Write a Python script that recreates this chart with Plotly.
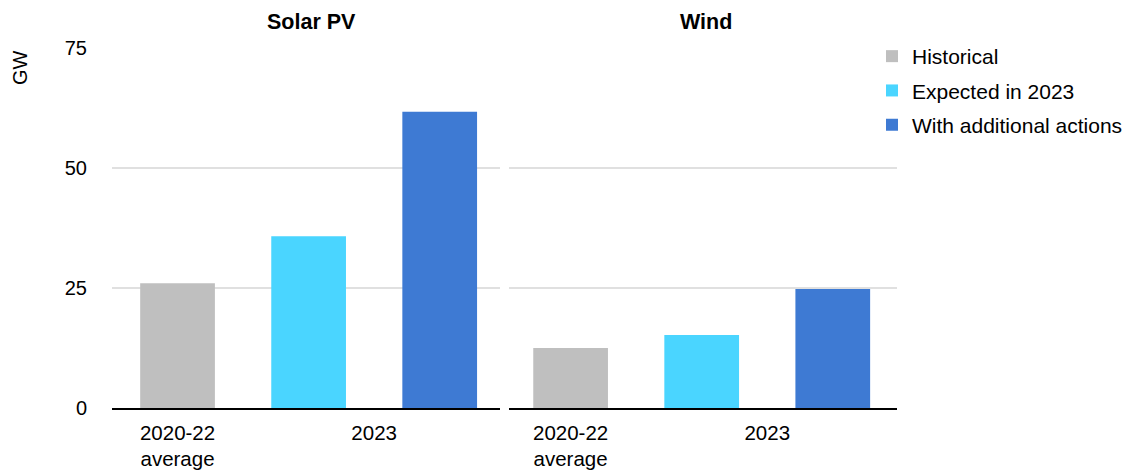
import plotly.graph_objects as go
from plotly.subplots import make_subplots

# Annual capacity additions (GW)
technologies = ["Solar PV", "Wind"]
scenarios = ["Historical", "Expected in 2023", "With additional actions"]
solar_gw = [26.0, 35.8, 61.7]
wind_gw = [12.5, 15.2, 24.8]
period_labels = ["2020-22<br>average", "2023"]
y_ticks = [0, 25, 50, 75]

colors = ["#BFBFBF", "#4AD5FF", "#3E7AD3"]
values_by_tech = [solar_gw, wind_gw]

FONT = "Liberation Sans, Arial, sans-serif"

fig = make_subplots(rows=1, cols=2, shared_yaxes=True, horizontal_spacing=0.01)

for col, (tech, vals) in enumerate(zip(technologies, values_by_tech), start=1):
    for i, (name, v, c) in enumerate(zip(scenarios, vals, colors)):
        fig.add_trace(
            go.Bar(
                x=[i], y=[v], name=name, marker_color=c, marker_line_width=0,
                width=0.57, legendgroup=name, showlegend=(col == 1),
                hovertemplate=f"{tech} – {name}: %{{y}} GW<extra></extra>",
            ),
            row=1, col=col,
        )

W, H = 1131, 470
ml, mr, mt, mb = 112, 234, 48, 62
pw = W - ml - mr
ph = H - mt - mb

def px_x(p):
    return (p - ml) / pw

def px_y(p):
    return (H - mb - p) / ph

fig.update_layout(
    width=W, height=H,
    margin=dict(l=ml, r=mr, t=mt, b=mb, autoexpand=False),
    barmode="overlay",
    plot_bgcolor="white", paper_bgcolor="white",
    font=dict(family=FONT, size=20, color="#000000"),
    legend=dict(
        x=px_x(872), y=px_y(36), xanchor="left", yanchor="top",
        font=dict(size=21, color="#000000"), traceorder="grouped", tracegroupgap=4,
        bgcolor="rgba(0,0,0,0)",
    ),
    showlegend=True,
)

fig.update_xaxes(domain=[0, px_x(500)], row=1, col=1, range=[-0.5, 2.46])
fig.update_xaxes(domain=[px_x(509), 1], row=1, col=2, range=[-0.47, 2.49])
fig.update_xaxes(
    tickvals=[0, 1.5], ticktext=period_labels,
    showline=True, linecolor="#000000", linewidth=2,
    showgrid=False, zeroline=False, automargin=False,
    ticks="outside", ticklen=5, tickcolor="rgba(0,0,0,0)",
    tickfont=dict(size=20.5),
)
fig.update_yaxes(
    range=[0, 75], tickvals=y_ticks, automargin=False,
    showgrid=True, gridcolor="#E0E0E0", gridwidth=1.5,
    zeroline=False, showline=False,
    tickfont=dict(size=20),
    ticklabelstandoff=24,
)
fig.update_yaxes(showticklabels=False, row=1, col=2)

# Panel titles
for tech, cx in zip(technologies, [311, 706]):
    fig.add_annotation(
        text=f"<b>{tech}</b>", x=px_x(cx), y=px_y(22), xref="paper", yref="paper",
        xanchor="center", yanchor="middle", showarrow=False, font=dict(size=21.5),
    )

# Axis unit label
fig.add_annotation(
    text="GW", x=px_x(20), y=px_y(68), xref="paper", yref="paper",
    xanchor="center", yanchor="middle", showarrow=False, textangle=-90,
    font=dict(size=20),
)

fig.write_html("out.html")
